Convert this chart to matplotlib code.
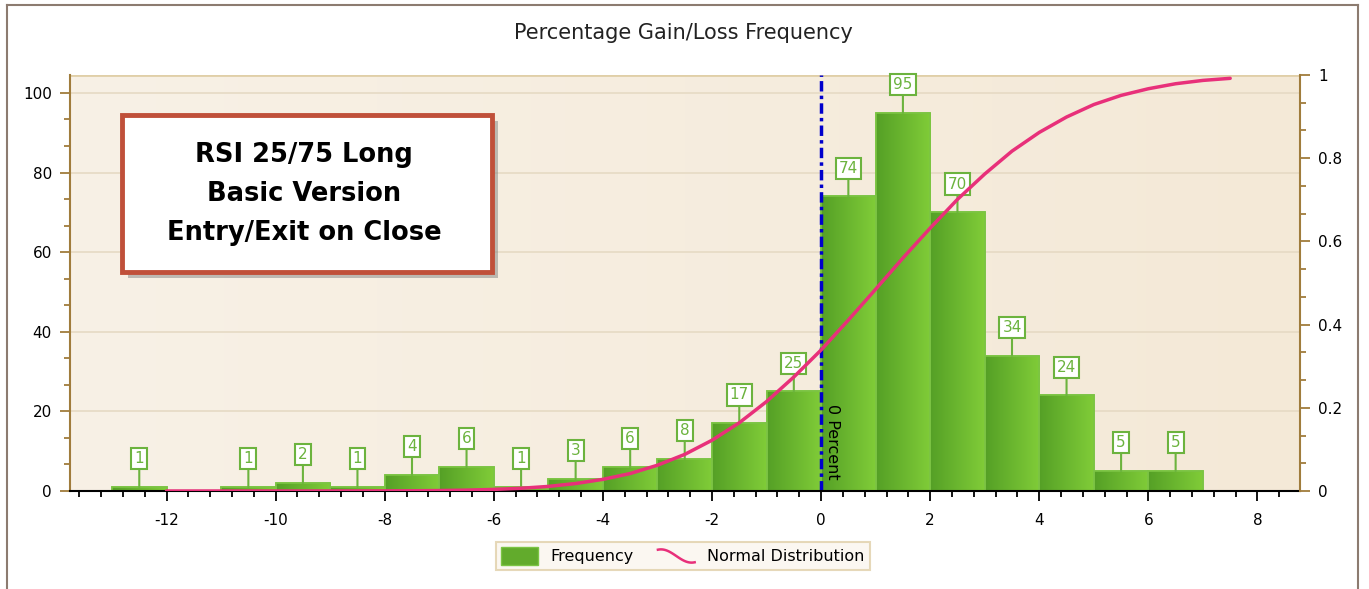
import numpy as np
import matplotlib
matplotlib.use("Agg")
import matplotlib.pyplot as plt
from matplotlib.patches import Rectangle, Patch
from matplotlib.lines import Line2D
from matplotlib.legend_handler import HandlerBase
from matplotlib.ticker import MultipleLocator, FuncFormatter

plt.rcParams["axes.unicode_minus"] = False

# histogram bins (left edges, width 1) and counts
bin_left = [-13, -12, -11, -10, -9, -8, -7, -6, -5, -4, -3, -2, -1, 0, 1, 2, 3, 4, 5, 6]
counts = [1, 0, 1, 2, 1, 4, 6, 1, 3, 6, 8, 17, 25, 74, 95, 70, 34, 24, 5, 5]

# normal distribution curve (right axis)
curve_x = [-12, -11.5, -11, -10.5, -10, -9.5, -9, -8.5, -8, -7.5, -7, -6.5, -6, -5.5,
           -5, -4.5, -4, -3.5, -3, -2.5, -2, -1.5, -1, -0.5, 0, 0.5, 1, 1.5, 2, 2.5,
           3, 3.5, 4, 4.5, 5, 5.5, 6, 6.5, 7, 7.5]
curve_y = [0.0, 0.0, 0.0, 0.0, 0.0, 0.0, 0.0001, 0.0002, 0.0003, 0.0006, 0.0011, 0.0021,
           0.0038, 0.0066, 0.011, 0.018, 0.028, 0.042, 0.062, 0.088, 0.122, 0.164, 0.215,
           0.274, 0.339, 0.411, 0.485, 0.560, 0.632, 0.701, 0.762, 0.817, 0.862, 0.899,
           0.929, 0.951, 0.967, 0.979, 0.987, 0.992]

title = "Percentage Gain/Loss Frequency"
box_lines = ["RSI 25/75 Long", "Basic Version", "Entry/Exit on Close"]

W, H = 1369, 589
fig = plt.figure(figsize=(W / 100, H / 100), dpi=100)
fig.patch.set_facecolor("white")

green_dark = "#55a026"
green_light = "#80cc38"
green_edge = "#7cc444"
label_green = "#6cb33e"
axis_brown = "#a07c3c"

ax = fig.add_axes([70 / W, 98 / H, 1230 / W, 416 / H])
ax.set_facecolor("#f6eee0")
ax.set_xlim(-13.77, 8.78)
ax.set_ylim(0, 104.5)

# background gradient
bg = np.linspace(0, 1, 256).reshape(1, -1)
ax.imshow(bg, extent=(-13.77, 8.78, 0, 104.5), aspect="auto", zorder=0,
          cmap=matplotlib.colors.LinearSegmentedColormap.from_list("bg", ["#f8f1e6", "#f4e9d7"]))

ax.grid(axis="y", color="#e6dac4", lw=1.2, zorder=0.5)
ax.set_axisbelow(True)

cmap = matplotlib.colors.LinearSegmentedColormap.from_list("g", [green_dark, green_light])
grad = np.linspace(0, 1, 64).reshape(1, -1)
for xl, c in zip(bin_left, counts):
    if c == 0:
        continue
    r = Rectangle((xl, 0), 1, c, facecolor=green_dark, edgecolor=green_edge, lw=1.2, zorder=2)
    ax.add_patch(r)
    im = ax.imshow(grad, extent=(xl, xl + 1, 0, c), aspect="auto", cmap=cmap, zorder=2.1)
    im.set_clip_path(r)
    ax.add_patch(Rectangle((xl, 0), 1, c, facecolor="none", edgecolor=green_edge, lw=1.2, zorder=2.2))
    ax.annotate(str(c), xy=(xl + 0.5, c), xytext=(0, 15), textcoords="offset points",
                ha="center", va="bottom", fontsize=11, color=label_green, zorder=6,
                bbox=dict(boxstyle="square,pad=0.2", fc="white", ec=label_green, lw=1.5),
                arrowprops=dict(arrowstyle="-", color=label_green, lw=1.5, shrinkA=0, shrinkB=0))

ax.set_xlim(-13.77, 8.78)
ax.set_ylim(0, 104.5)

# zero line
ax.axvline(0, color="#0000cc", lw=2.5, ls=(0, (3, 1.2, 1, 1.2)), zorder=4)
ax.text(0.08, 21.8, "0 Percent", rotation=-90, ha="left", va="top", fontsize=11.5,
        color="black", zorder=5)

ax.xaxis.set_major_locator(MultipleLocator(2))
ax.xaxis.set_minor_locator(MultipleLocator(0.4))
ax.yaxis.set_major_locator(MultipleLocator(20))
ax.yaxis.set_minor_locator(MultipleLocator(20 / 3))
ax.tick_params(axis="x", which="major", length=7, width=1.3, color="black", labelsize=11, pad=9)
ax.tick_params(axis="x", which="minor", length=4, width=1.3, color="black")
ax.tick_params(axis="y", which="major", length=7, width=1.3, color=axis_brown, labelsize=11, pad=6)
ax.tick_params(axis="y", which="minor", length=4, width=1.3, color=axis_brown)
for s in ["top", "right"]:
    ax.spines[s].set_visible(False)
ax.spines["left"].set_color(axis_brown)
ax.spines["left"].set_linewidth(1.5)
ax.spines["bottom"].set_color("black")
ax.spines["bottom"].set_linewidth(1.5)
ax.spines["bottom"].set_zorder(5)

# top edge of plot area
ax.axhline(104.5, color="#e0cfa8", lw=2, zorder=1)

ax2 = ax.twinx()
ax2.set_ylim(0, 1)
ax2.plot(curve_x, curve_y, color="#e8307a", lw=2.5, solid_capstyle="round", zorder=3)
ax2.yaxis.set_major_locator(MultipleLocator(0.2))
ax2.yaxis.set_minor_locator(MultipleLocator(0.2 / 3))
ax2.yaxis.set_major_formatter(FuncFormatter(lambda v, p: "%g" % round(v, 2)))
ax2.tick_params(axis="y", which="major", length=7, width=1.3, color=axis_brown, labelsize=11, pad=6)
ax2.tick_params(axis="y", which="minor", length=4, width=1.3, color=axis_brown)
for s in ["top", "left", "bottom"]:
    ax2.spines[s].set_visible(False)
ax2.spines["right"].set_color(axis_brown)
ax2.spines["right"].set_linewidth(1.5)

fig.text(683 / W, 1 - 33 / H, title, ha="center", va="center", fontsize=15, color="#222222")

# annotation box with shadow
bx0, by0, bw, bh = 122 / W, 1 - 272 / H, 370 / W, 157 / H
fig.patches.append(Rectangle((bx0 + 6 / W, by0 - 6 / H), bw, bh, transform=fig.transFigure,
                             facecolor="#777777", alpha=0.45, edgecolor="none", zorder=7))
fig.patches.append(Rectangle((bx0, by0), bw, bh, transform=fig.transFigure,
                             facecolor="white", edgecolor="#c0503a", lw=3.5, zorder=8))
for i, line in enumerate(box_lines):
    fig.text(304 / W, 1 - (155 + 39 * i) / H, line, ha="center", va="center",
             fontsize=18.5, fontweight="bold", family="DejaVu Sans", color="black", zorder=9)

# outer frame
for xs, ys in [([7 / W, 7 / W], [0, 1 - 5 / H]), ([7 / W, 1358 / W], [1 - 5 / H, 1 - 5 / H]),
               ([1358 / W, 1358 / W], [0, 1 - 5 / H])]:
    fig.add_artist(Line2D(xs, ys, transform=fig.transFigure, color="#8c7b70", lw=1.5))


class WaveHandler(HandlerBase):
    def create_artists(self, legend, orig_handle, xdescent, ydescent, width, height, fontsize, trans):
        t = np.linspace(0, 1, 40)
        xs = -xdescent + t * width
        ys = -ydescent + height / 2 + 0.38 * height * np.cos(np.pi * (1.2 * t - 0.1))
        ln = Line2D(xs, ys, color="#e8307a", lw=1.8, transform=trans)
        return [ln]


wave = Line2D([], [], color="#e8307a")
leg = fig.legend([Patch(facecolor="#62ab2c", edgecolor="#7cc444"), wave],
                 ["Frequency", "Normal Distribution"],
                 handler_map={Line2D: WaveHandler()},
                 loc="center", bbox_to_anchor=(683 / W, 1 - 556 / H), ncol=2,
                 fontsize=11.5, frameon=True, fancybox=False, handlelength=2.3, handleheight=1.3,
                 columnspacing=1.5, borderpad=0.35)
leg.get_frame().set_facecolor("#faf5ee")
leg.get_frame().set_edgecolor("#e0cfa8")
leg.get_frame().set_linewidth(1.5)

fig.savefig("out.png", dpi=100)
